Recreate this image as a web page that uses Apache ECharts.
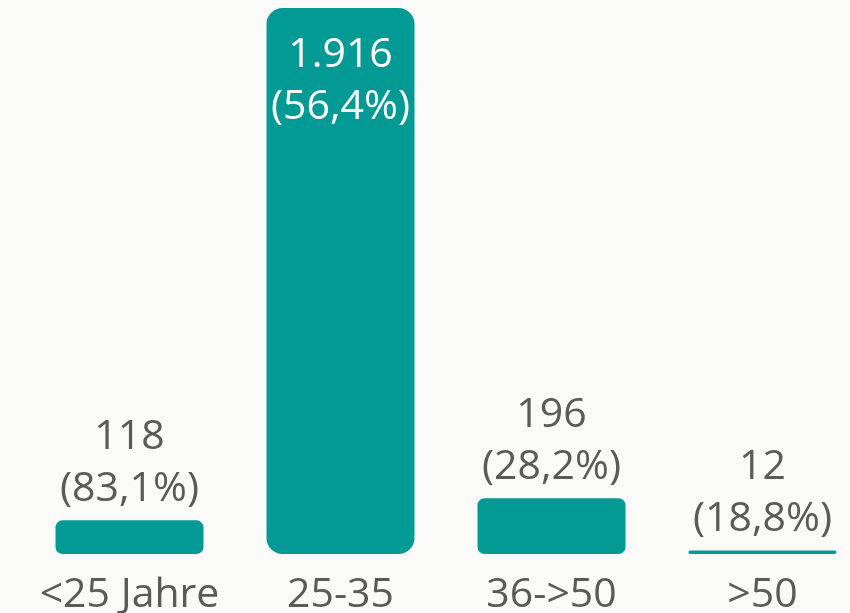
<!DOCTYPE html>
<html>
<head>
<meta charset="utf-8">
<script src="https://cdn.jsdelivr.net/npm/echarts@6/dist/echarts.min.js"></script>
<style>
  html, body { margin: 0; padding: 0; background: #fafaf9; }
  #chart { width: 850px; height: 613px; }
</style>
</head>
<body>
<div id="chart"></div>
<script>
// Altersgruppen
const categories = ['<25 Jahre', '25-35', '36->50', '>50'];
const counts = [118, 1916, 196, 12];
const shares = [83.1, 56.4, 28.2, 18.8];

const teal = '#039a96';
const grey = '#5a5a5a';

function fmtCount(v) {
  return String(v).replace(/\B(?=(\d{3})+(?!\d))/g, '.');
}
function fmtShare(p) {
  return '(' + p.toFixed(1).replace('.', ',') + '%)';
}

const maxIdx = counts.indexOf(Math.max(...counts));

const chart = echarts.init(document.getElementById('chart'));
chart.setOption({
  backgroundColor: '#fafaf9',
  animation: false,
  grid: { left: 24, width: 844, top: 8, height: 546, outerBoundsMode: 'none', containLabel: false },
  xAxis: {
    type: 'category',
    data: categories,
    axisLine: { show: false },
    axisTick: { show: false },
    axisLabel: {
      color: grey,
      fontFamily: 'Open Sans',
      fontSize: 41,
      margin: 21,
      interval: 0
    }
  },
  yAxis: {
    type: 'value',
    min: 0,
    max: 'dataMax',
    show: false,
    splitLine: { show: false }
  },
  series: [{
    type: 'bar',
    barWidth: 148,
    data: counts.map((v, i) => ({
      value: v,
      itemStyle: { borderRadius: i === maxIdx ? 16 : 7 },
      label: i === maxIdx
        ? { position: 'insideTop', distance: 21, color: '#ffffff' }
        : { position: 'top', distance: 5, color: grey }
    })),
    itemStyle: { color: teal },
    label: {
      show: true,
      fontFamily: 'Open Sans',
      fontSize: 41,
      lineHeight: 52,
      formatter: p => fmtCount(p.value) + '\n' + fmtShare(shares[p.dataIndex])
    }
  }]
});
</script>
</body>
</html>
